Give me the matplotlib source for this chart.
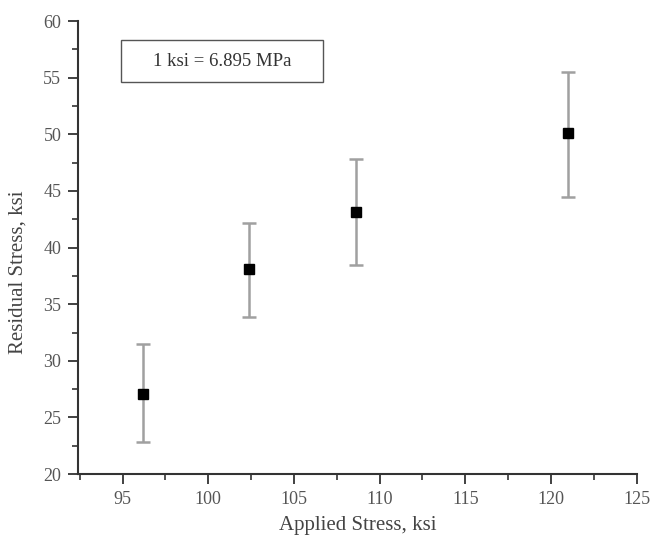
import numpy as np
import matplotlib
matplotlib.use("Agg")
import matplotlib.pyplot as plt
from matplotlib.ticker import MultipleLocator
from matplotlib.patches import Rectangle

plt.rcParams['font.family'] = ['Liberation Serif', 'DejaVu Serif']

# data
applied = [96.2, 102.4, 108.6, 121.0]
residual = [27.1, 38.1, 43.1, 50.1]
err_low = [4.3, 4.2, 4.6, 5.6]
err_high = [4.4, 4.1, 4.7, 5.4]

fig = plt.figure(figsize=(6.55, 5.4), dpi=100)
ax = fig.add_axes([0.119, 0.122, 0.853, 0.839])

ax.errorbar(applied, residual, yerr=[err_low, err_high], fmt='s', color='black',
            markersize=6.5, ecolor='#a0a0a0', elinewidth=1.8, capsize=5, capthick=1.8)

ax.set_xlim(92.4, 125)
ax.set_ylim(20, 60)
ax.xaxis.set_major_locator(MultipleLocator(5))
ax.xaxis.set_minor_locator(MultipleLocator(2.5))
ax.yaxis.set_major_locator(MultipleLocator(5))
ax.yaxis.set_minor_locator(MultipleLocator(2.5))
ax.spines['top'].set_visible(False)
ax.spines['right'].set_visible(False)
for s in ('left', 'bottom'):
    ax.spines[s].set_linewidth(1.5)
    ax.spines[s].set_color('#333333')
ax.tick_params(which='major', length=7, width=1.3, colors='#333333', labelsize=13,
               labelcolor='#555555', pad=5)
ax.tick_params(which='minor', length=4, width=1.2, colors='#333333')

ax.set_xlabel('Applied Stress, ksi', fontsize=15, color='#444444', labelpad=6)
ax.set_ylabel('Residual Stress, ksi', fontsize=15, color='#444444')
ax.yaxis.set_label_coords(-0.091, 0.446)

# note box
fig.patches.append(Rectangle((121 / 655, 1 - 82 / 540), 202 / 655, 42 / 540,
                             transform=fig.transFigure, facecolor='white',
                             edgecolor='#555555', linewidth=1))
fig.text(222 / 655, 1 - 61 / 540, '1 ksi = 6.895 MPa', ha='center', va='center',
         fontsize=13.5, color='#333333')

fig.savefig('out.png', dpi=100)
